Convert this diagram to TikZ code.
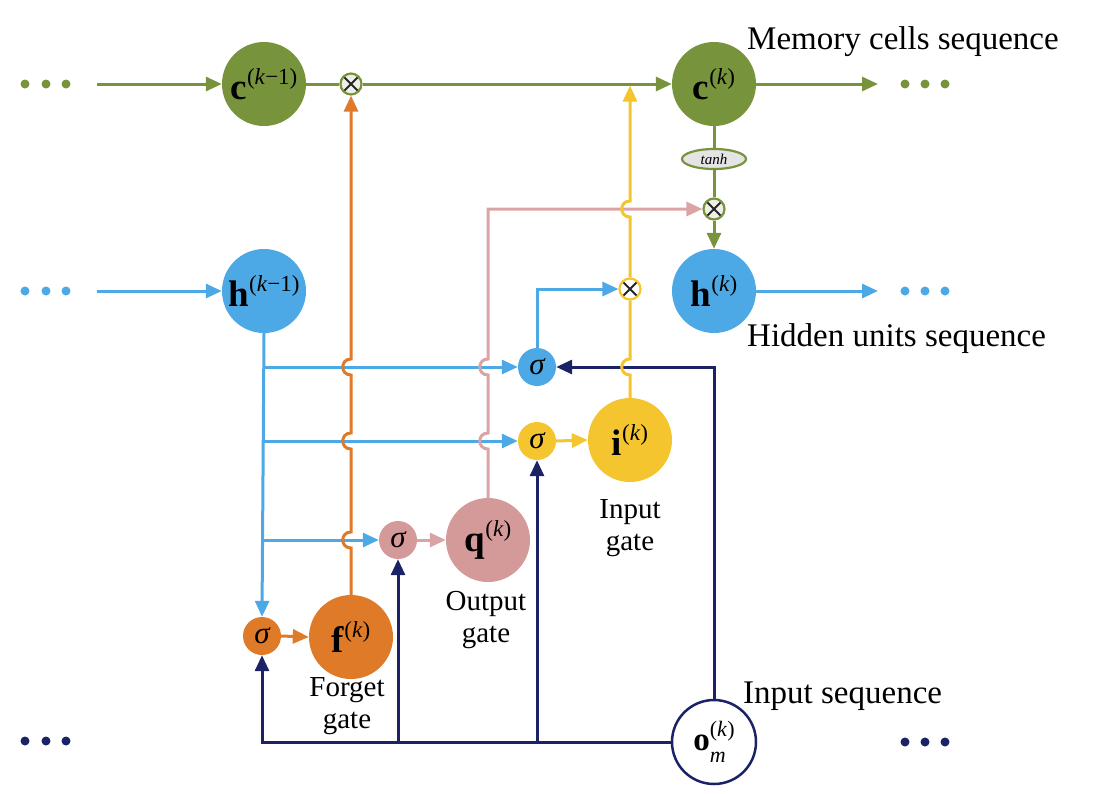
\documentclass[tikz,border=0pt]{standalone}
\usepackage{fontspec}
\setmainfont{Liberation Serif}
\usetikzlibrary{arrows.meta,shapes.geometric}
\definecolor{cgreen}{HTML}{77933C}
\definecolor{cblue}{HTML}{4DA8E6}
\definecolor{corange}{HTML}{DE7A28}
\definecolor{cpink}{HTML}{D49A9A}
\definecolor{cpinkl}{HTML}{DBA4A4}
\definecolor{cyellow}{HTML}{F5C530}
\definecolor{cnavy}{HTML}{1B2366}
\definecolor{multfill}{HTML}{EEF0E8}
\definecolor{tanhfill}{HTML}{E4E4E4}
\newcommand{\vlab}[2]{\textbf{#1}\raisebox{0.42em}{\fontsize{23}{23}\selectfont(#2)}}
\begin{document}
\begin{tikzpicture}[x=1pt,y=-1pt,
  big/.style={circle, minimum size=84pt, inner sep=0pt, font=\fontsize{37}{37}\selectfont},
  sig/.style={circle, minimum size=38pt, inner sep=0pt, font=\fontsize{31}{31}\selectfont\itshape},
  mult/.style={circle, minimum size=21pt, inner sep=0pt, draw, line width=2.2pt, fill=multfill,
    path picture={\draw[line width=1.8pt,black!85] (path picture bounding box.south west) -- (path picture bounding box.north east) (path picture bounding box.north west) -- (path picture bounding box.south east);}},
  conn/.style={line width=3pt},
  arr/.style={conn, -{Triangle[length=16pt,width=14pt]}},
  lab/.style={font=\fontsize{33}{33}\selectfont, anchor=base west, inner sep=0pt},
  gate/.style={font=\fontsize{29}{32}\selectfont, align=center, inner sep=0pt},
  dot/.style={circle, inner sep=0pt, minimum size=9pt}
]
\useasboundingbox (0,0) rectangle (1097,793);

% dots
\foreach \x/\n in {25/1,46/2,66/3}{
  \node[dot, fill=cgreen] (gl\n) at (\x,84) {};
  \node[dot, fill=cblue] (bl\n) at (\x,291) {};
  \node[dot, fill=cnavy] (nl\n) at (\x,741) {};
}
\foreach \x/\n in {905/1,925/2,945/3}{
  \node[dot, fill=cgreen] (gr\n) at (\x,84) {};
  \node[dot, fill=cblue] (br\n) at (\x,291) {};
  \node[dot, fill=cnavy] (nr\n) at (\x,742) {};
}

% main nodes
\node[big, fill=cgreen] (c1) at (264,84) {\vlab{c}{\textit{k}−1}};
\node[big, fill=cgreen] (c2) at (714,84) {\vlab{c}{\textit{k}}};
\node[big, fill=cblue] (h1) at (264,291) {\vlab{h}{\textit{k}−1}};
\node[big, fill=cblue] (h2) at (714,291) {\vlab{h}{\textit{k}}};
\node[big, fill=corange] (f) at (351,637) {\vlab{f}{\textit{k}}};
\node[big, fill=cpink] (q) at (488,540) {\vlab{q}{\textit{k}}};
\node[big, fill=cyellow] (i) at (630,440) {\vlab{i}{\textit{k}}};
\node[big, draw=cnavy, line width=2.5pt, fill=white, font=\fontsize{33}{33}\selectfont] (o) at (714,742)
  {\textbf{o}\rlap{\raisebox{-0.38em}{\fontsize{22}{22}\selectfont\textit{m}}}\raisebox{0.42em}{\fontsize{22}{22}\selectfont(\textit{k})}};

\node[sig, fill=corange] (sf) at (262,636) {σ};
\node[sig, fill=cpink] (sp) at (398,540) {σ};
\node[sig, fill=cyellow] (sy) at (537,441) {σ};
\node[sig, fill=cblue] (sb) at (537,367) {σ};

\node[mult, draw=cgreen] (m1) at (351,84) {};
\node[mult, draw=cgreen] (m2) at (714,209) {};
\node[mult, draw=cyellow, fill=white] (m3) at (630,289) {};
\node[ellipse, draw=cgreen, line width=2.2pt, fill=tanhfill, minimum width=64pt, minimum height=20pt, inner sep=0pt, font=\fontsize{15}{15}\selectfont\itshape] (tanh) at (714,159) {tanh};

% labels
\node[lab] (tm) at (747,49) {Memory cells sequence};
\node[lab] (th) at (747,346) {Hidden units sequence};
\node[lab] (ti) at (743,703) {Input sequence};
\node[gate] (gf) at (347,706) {Forget\\gate};
\node[gate] (go) at (486,620) {Output\\gate};
\node[gate] (gi) at (630,528) {Input\\gate};

% coordinates
\coordinate (gstart) at (97,84);
\coordinate (gend) at (878,84);
\coordinate (bstart) at (97,291);
\coordinate (bend) at (878,291);
\coordinate (cjoin) at (630,84);

% green
\draw[arr, cgreen] (gstart) -- (c1.west);
\draw[conn, cgreen] (c1.east) -- (m1.west);
\draw[arr, cgreen] (m1.east) -- (c2.west);
\draw[arr, cgreen] (c2.east) -- (gend);
\draw[conn, cgreen] (c2.south) -- (tanh.north);
\draw[conn, cgreen] (tanh.south) -- (m2.north);
\draw[arr, cgreen] (m2.south) -- (h2.north);

% blue
\draw[arr, cblue] (bstart) -- (h1.west);
\draw[arr, cblue] (h2.east) -- (bend);
\draw[arr, cblue] (h1.south) -- (sf.north);
\draw[arr, cblue] (264,367) -- (sb.west);
\draw[arr, cblue] (264,441) -- (sy.west);
\draw[arr, cblue] (264,540) -- (sp.west);
\draw[arr, cblue] (sb.north) |- (m3.west);

% navy
\draw[arr, cnavy] (o.north) |- (sb.east);
\draw[arr, cnavy] (o.west) -| (sf.south);
\draw[arr, cnavy] (398,742) -- (sp.south);
\draw[arr, cnavy] (537,742) -- (sy.south);

% sigma to gates
\draw[arr, corange] (sf.east) -- (f.west);
\draw[arr, cpinkl] (sp.east) -- (q.west);
\draw[arr, cyellow] (sy.east) -- (i.west);

% orange up with jumps
\draw[arr, corange] (f.north) -- (351,548) .. controls (340,548) and (340,532) .. (351,532)
  -- (351,449) .. controls (340,449) and (340,433) .. (351,433)
  -- (351,375) .. controls (340,375) and (340,359) .. (351,359) -- (m1.south);

% pink up with jumps
\draw[arr, cpinkl] (q.north) -- (488,449) .. controls (477,449) and (477,433) .. (488,433)
  -- (488,375) .. controls (477,375) and (477,359) .. (488,359) -- (488,209) -- (m2.west);

% yellow up with jumps
\draw[conn, cyellow] (i.north) -- (630,375) .. controls (619,375) and (619,359) .. (630,359) -- (m3.south);
\draw[arr, cyellow, shorten >=1.5pt] (m3.north) -- (630,217) .. controls (619,217) and (619,201) .. (630,201) -- (cjoin);

\end{tikzpicture}
\end{document}
